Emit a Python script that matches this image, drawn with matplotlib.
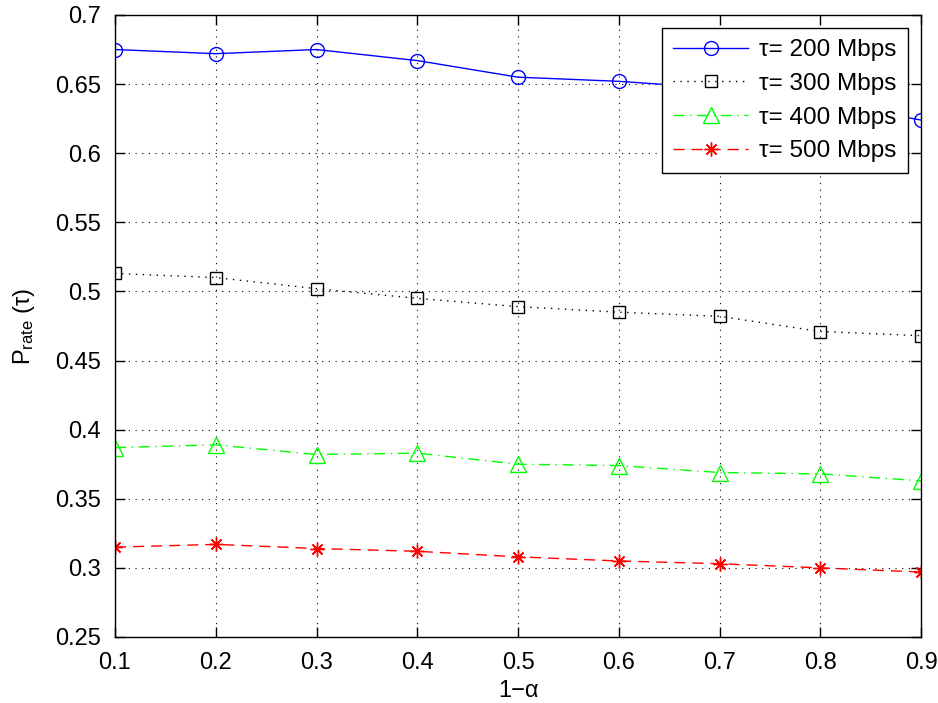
import numpy as np
import matplotlib
matplotlib.use("Agg")
import matplotlib.pyplot as plt

plt.rcParams['font.family'] = ['Liberation Sans', 'DejaVu Sans']
plt.rcParams['mathtext.default'] = 'regular'

# rate probability vs 1-alpha for each threshold
x = [0.1, 0.2, 0.3, 0.4, 0.5, 0.6, 0.7, 0.8, 0.9]
p200 = [0.675, 0.672, 0.675, 0.667, 0.655, 0.652, 0.647, 0.637, 0.624]
p300 = [0.513, 0.510, 0.502, 0.495, 0.489, 0.485, 0.482, 0.471, 0.468]
p400 = [0.387, 0.389, 0.382, 0.383, 0.375, 0.374, 0.369, 0.368, 0.363]
p500 = [0.315, 0.317, 0.314, 0.312, 0.308, 0.305, 0.303, 0.300, 0.297]
labels = ['τ= 200 Mbps', 'τ= 300 Mbps', 'τ= 400 Mbps', 'τ= 500 Mbps']

fig = plt.figure(figsize=(9.38, 7.03), dpi=100)
ax = fig.add_axes([0.1226, 0.0939, 0.8593, 0.8848])

ax.plot(x, p200, color='blue', linestyle='-', linewidth=1, marker='o',
        markersize=10, markerfacecolor='none', markeredgewidth=1, label=labels[0])
ax.plot(x, p300, color='black', linestyle=(0, (1, 4)), linewidth=1, marker='s',
        markersize=8, markerfacecolor='none', markeredgewidth=1, label=labels[1])
ax.plot(x, p400, color=(0, 1, 0), linestyle=(0, (8, 4, 1, 4)), linewidth=1, marker='^',
        markersize=11, markerfacecolor='none', markeredgewidth=1, label=labels[2])
ax.plot(x, p500, color='red', linestyle=(0, (8, 5)), linewidth=1, marker=(8, 2, 0),
        markersize=10, markerfacecolor='none', markeredgewidth=1, label=labels[3])

ax.set_xlim(0.1, 0.9)
ax.set_ylim(0.25, 0.7)
ax.set_xticks(np.arange(0.1, 0.91, 0.1))
ax.set_yticks(np.arange(0.25, 0.701, 0.05))
ax.set_xticklabels(['0.1', '0.2', '0.3', '0.4', '0.5', '0.6', '0.7', '0.8', '0.9'])
ax.set_yticklabels(['0.25', '0.3', '0.35', '0.4', '0.45', '0.5', '0.55', '0.6', '0.65', '0.7'])
ax.tick_params(direction='in', length=7, width=1, top=True, right=True,
               labelsize=17)
ax.tick_params(axis='x', pad=11)
ax.tick_params(axis='y', pad=10)
ax.grid(True, color='black', linestyle=(0, (1, 5)), linewidth=0.8)
for s in ax.spines.values():
    s.set_linewidth(1)

ax.set_xlabel('1\u2212α', fontsize=17, labelpad=4)
ax.set_ylabel('$P_{rate}$ (τ)', fontsize=17, labelpad=13)

leg = ax.legend(loc='upper right', fontsize=17.5, handlelength=3.1,
                fancybox=False, edgecolor='black', framealpha=1,
                borderaxespad=0.55, labelspacing=0.48, handletextpad=0.45,
                borderpad=0.45)
leg.get_frame().set_linewidth(1)

fig.savefig('out.png', dpi=100)
